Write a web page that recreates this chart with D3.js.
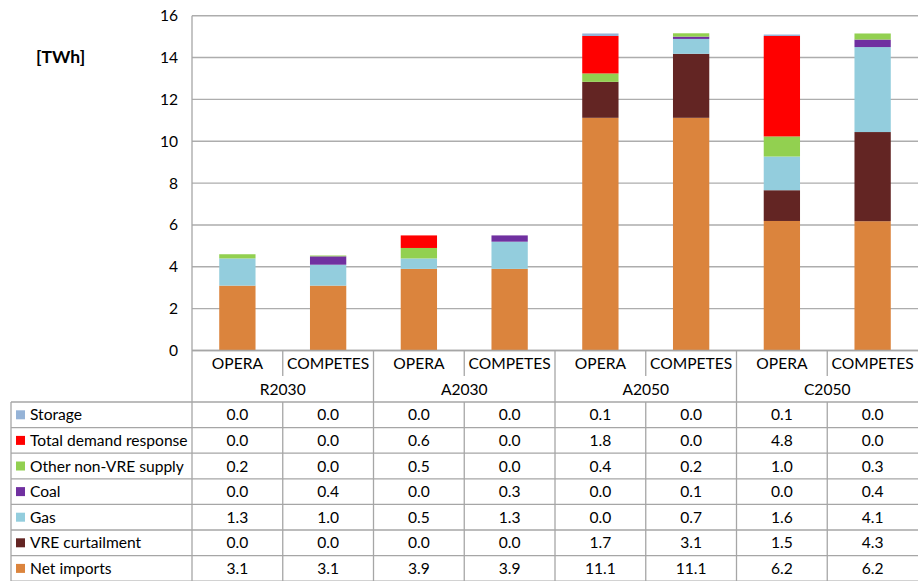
<!DOCTYPE html>
<html><head><meta charset="utf-8">
<script src="https://cdn.jsdelivr.net/npm/d3@7"></script>
<style>
html,body{margin:0;padding:0;background:#fff;}
svg{display:block;font-family:Lato,"Open Sans",sans-serif;}
</style></head>
<body>
<svg id="chart" width="918" height="581"></svg>
<script>
// ---- data ----
const groups = ["R2030","A2030","A2050","C2050"];
const models = ["OPERA","COMPETES"];
const columns = ["R2030 OPERA","R2030 COMPETES","A2030 OPERA","A2030 COMPETES","A2050 OPERA","A2050 COMPETES","C2050 OPERA","C2050 COMPETES"];
const seriesNames = ["Net imports","VRE curtailment","Gas","Coal","Other non-VRE supply","Total demand response","Storage"];
const netImports      = [3.1, 3.1, 3.9, 3.9, 11.12, 11.12, 6.19, 6.18];
const vreCurtailment  = [0.0, 0.0, 0.0, 0.0, 1.72, 3.06, 1.47, 4.26];
const gas             = [1.3, 1.0, 0.5, 1.3, 0.0, 0.71, 1.61, 4.06];
const coal            = [0.0, 0.4, 0.0, 0.3, 0.0, 0.11, 0.0, 0.36];
const otherNonVRE     = [0.2, 0.04, 0.5, 0.0, 0.4, 0.16, 0.96, 0.29];
const demandResponse  = [0.0, 0.0, 0.6, 0.0, 1.79, 0.0, 4.8, 0.0];
const storage         = [0.0, 0.0, 0.0, 0.0, 0.12, 0.0, 0.07, 0.0];
const yTicks = [0,2,4,6,8,10,12,14,16];
const unitLabel = "[TWh]";

const seriesValues = [netImports, vreCurtailment, gas, coal, otherNonVRE, demandResponse, storage];
const colors = ["#DB843D","#632523","#93CDDD","#7030A0","#92D050","#FF0000","#95B3D7"];

// ---- layout ----
const svg = d3.select("#chart");
const plotL = 192, plotR = 918, yTop = 15.7, yBot = 350.5;
const tableL = 11, rowH = 25.6;
const modelRowBot = 376, groupRowBot = 402;
const lineCol = "#A6A6A6";

const x = d3.scaleBand().domain(columns).range([plotL, plotR]).paddingInner(0.6).paddingOuter(0.3);
const xCol = d3.scaleBand().domain(columns).range([plotL, plotR]).padding(0);
const xGroup = d3.scaleBand().domain(groups).range([plotL, plotR]).padding(0);
const y = d3.scaleLinear().domain([0,16]).range([yBot, yTop]);

// gridlines
svg.append("g").selectAll("line").data(yTicks).join("line")
  .attr("x1", plotL).attr("x2", plotR)
  .attr("y1", d => y(d)).attr("y2", d => y(d))
  .attr("stroke", "#ADADAD").attr("stroke-width", 1.4);

// y axis labels
const fs = 15.6;
const yAxis = d3.axisLeft(y).tickValues(yTicks).tickSize(0).tickPadding(0).tickFormat(d3.format("d"));
const ya = svg.append("g").attr("transform", `translate(${plotL - 14},0)`).call(yAxis);
ya.select(".domain").remove();
ya.selectAll("text").attr("font-size", fs).attr("fill", "#000").attr("font-family", "Lato,'Open Sans',sans-serif");

svg.append("text").attr("x", 36).attr("y", 63).text(unitLabel)
  .attr("font-size", 17.5).attr("font-weight", "bold").attr("fill", "#000");

// stacked bars
const rows = columns.map((c, i) => {
  const o = {col: c};
  seriesNames.forEach((s, k) => o[s] = seriesValues[k][i]);
  return o;
});
const stack = d3.stack().keys(seriesNames)(rows);
svg.append("g").selectAll("g").data(stack).join("g")
  .attr("fill", (d, k) => colors[k])
  .selectAll("rect").data(d => d).join("rect")
  .attr("x", d => x(d.data.col))
  .attr("width", x.bandwidth())
  .attr("y", d => y(d[1]))
  .attr("height", d => Math.max(0, y(d[0]) - y(d[1])));

// axis / table lines
const L = svg.append("g").attr("stroke", lineCol).attr("stroke-width", 1.3);
L.append("line").attr("x1", plotL).attr("x2", plotL).attr("y1", yTop).attr("y2", 581);
L.append("line").attr("x1", plotL).attr("x2", plotR).attr("y1", yBot).attr("y2", yBot);
L.selectAll(".cs").data(columns.filter((c,i) => i % 2 === 1)).join("line")
  .attr("x1", d => xCol(d)).attr("x2", d => xCol(d))
  .attr("y1", yBot).attr("y2", modelRowBot);
L.selectAll(".gs").data(groups.slice(1)).join("line")
  .attr("x1", d => xGroup(d)).attr("x2", d => xGroup(d))
  .attr("y1", yBot).attr("y2", groupRowBot);
const tableRows = seriesNames.slice().reverse();
const tableColors = colors.slice().reverse();
const tableVals = seriesValues.slice().reverse();
L.selectAll(".th").data(d3.range(tableRows.length + 1)).join("line")
  .attr("x1", tableL).attr("x2", plotR)
  .attr("y1", i => groupRowBot + i * rowH).attr("y2", i => groupRowBot + i * rowH);
L.append("line").attr("x1", tableL).attr("x2", tableL).attr("y1", groupRowBot).attr("y2", 581);
L.selectAll(".tv").data(columns.slice(1)).join("line")
  .attr("x1", d => xCol(d)).attr("x2", d => xCol(d))
  .attr("y1", groupRowBot).attr("y2", 581);

// category labels
svg.append("g").selectAll("text").data(columns).join("text")
  .attr("x", d => xCol(d) + xCol.bandwidth() / 2)
  .attr("y", (yBot + modelRowBot) / 2 + 5.5)
  .attr("text-anchor", "middle").attr("font-size", fs).attr("fill", "#000")
  .text((d, i) => models[i % 2]);
svg.append("g").selectAll("text").data(groups).join("text")
  .attr("x", d => xGroup(d) + xGroup.bandwidth() / 2)
  .attr("y", (modelRowBot + groupRowBot) / 2 + 5.5)
  .attr("text-anchor", "middle").attr("font-size", fs).attr("fill", "#000")
  .text(d => d);

// table legend + values
const fmt = d3.format(".1f");
const T = svg.append("g");
tableRows.forEach((name, r) => {
  const cy = groupRowBot + r * rowH + rowH / 2;
  T.append("rect").attr("x", 16).attr("y", cy - 4.5).attr("width", 9).attr("height", 9).attr("fill", tableColors[r]);
  T.append("text").attr("x", 30).attr("y", cy + 5.5).attr("font-size", fs).attr("fill", "#000").text(name);
  columns.forEach((c, i) => {
    T.append("text").attr("x", xCol(c) + xCol.bandwidth() / 2).attr("y", cy + 5.5)
      .attr("text-anchor", "middle").attr("font-size", fs).attr("fill", "#000")
      .text(fmt(tableVals[r][i]));
  });
});
</script>
</body></html>
